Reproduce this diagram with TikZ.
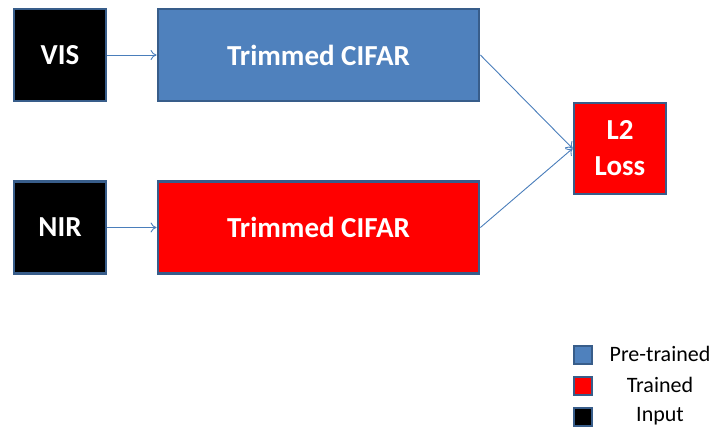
\documentclass[tikz,border=0pt]{standalone}
\usepackage{fontspec}
\setmainfont{Carlito}
\usetikzlibrary{arrows.meta}
\definecolor{bd}{RGB}{56,93,138}
\definecolor{pre}{RGB}{79,129,189}
\definecolor{tr}{RGB}{255,0,0}
\definecolor{ar}{RGB}{74,126,187}
\tikzset{
  blk/.style={draw=bd, line width=2.8pt, inner sep=0pt, font=\bfseries\fontsize{29}{34}\selectfont, text=white, align=center},
  inbox/.style={blk, fill=black, minimum width=92pt, minimum height=92pt},
  netbox/.style={blk, minimum width=321pt, minimum height=92pt},
  lossbox/.style={blk, fill=tr, minimum width=92pt, minimum height=91pt},
  conn/.style={draw=ar, line width=0.9pt, -{To[length=6pt,width=10pt]}},
  legsq/.style={draw=bd, line width=2.4pt, minimum size=18pt, inner sep=0pt},
  legtxt/.style={font=\fontsize{22}{26}\selectfont, anchor=center}
}
\begin{document}
\begin{tikzpicture}[x=1pt,y=-1pt]
\useasboundingbox (0,0) rectangle (711,429);
\node[inbox] (vis) at (60,55) {VIS};
\node[netbox, fill=pre] (top) at (318.5,55) {Trimmed CIFAR};
\node[inbox] (nir) at (60,227.5) {NIR};
\node[netbox, fill=tr] (bot) at (318.5,227.5) {Trimmed CIFAR};
\node[lossbox] (loss) at (620,148.5) {L2\\[2pt]Loss};
\draw[conn] (vis.east) -- (top.west);
\draw[conn] (nir.east) -- (bot.west);
\draw[conn] (top.east) -- (loss.west);
\draw[conn] (bot.east) -- (loss.west);
\node[legsq, fill=pre] (l1) at (583,355) {};
\node[legsq, fill=tr] (l2) at (583,386) {};
\node[legsq, fill=black] (l3) at (583,417) {};
\node[legtxt] (t1) at (660,354) {Pre-trained};
\node[legtxt] (t2) at (660,385) {Trained};
\node[legtxt] (t3) at (660,416) {Input};
\end{tikzpicture}
\end{document}
